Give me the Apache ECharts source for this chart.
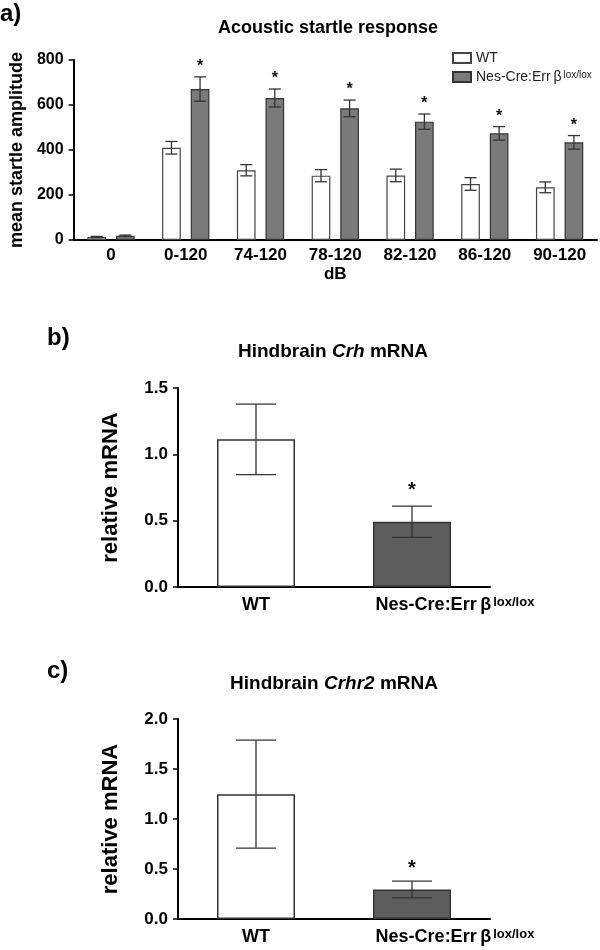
<!DOCTYPE html>
<html><head><meta charset="utf-8">
<script src="https://cdn.jsdelivr.net/npm/echarts@6/dist/echarts.min.js"></script>
<style>html,body{margin:0;padding:0;background:#fff}#c{width:600px;height:950px}</style>
</head><body><div id="c"></div>
<script>
// ---- data ----
const aCategories = ['0', '0-120', '74-120', '78-120', '82-120', '86-120', '90-120'];
const aWT = [13, 410, 310, 286, 287, 249, 234];
const aWTErr = [3, 28, 25, 27, 28, 28, 24];
const aNes = [19, 671, 631, 585, 526, 474, 434];
const aNesErr = [3, 54, 40, 37, 34, 30, 30];
const aWTSig = [false, false, false, false, false, false, false];
const aNesSig = [false, true, true, true, true, true, true];
const aYTicks = [0, 200, 400, 600, 800];

const bCategories = ['WT', 'Nes'];
const bValues = [1.113, 0.492];
const bErr = [0.266, 0.118];
const bSig = [false, true];
const bYTicks = [0, 0.5, 1.0, 1.5];

const cCategories = ['WT', 'Nes'];
const cValues = [1.248, 0.295];
const cErr = [0.54, 0.083];
const cSig = [false, true];
const cYTicks = [0, 0.5, 1.0, 1.5, 2.0];

// ---- chart ----
const FF = "'Liberation Sans', Arial, sans-serif";
const chart = echarts.init(document.getElementById('c'), null, {renderer: 'canvas'});

function errSeries(xi, yi, vals, errs, sig, sign, bwFrac, gapFrac, capW, starGap, starSize) {
  return {
    type: 'custom', xAxisIndex: xi, yAxisIndex: yi, z: 10, silent: true,
    data: vals.map((v, i) => [i, v, errs[i], sig[i] ? 1 : 0]),
    renderItem(params, api) {
      const i = api.value(0), v = api.value(1), e = api.value(2), s = api.value(3);
      const band = api.size([1, 0])[0];
      const bw = band * bwFrac;
      const off = sign * (bw + bw * gapFrac) / 2;
      const top = api.coord([i, v + e]);
      const bot = api.coord([i, Math.max(0, v - e)]);
      const x = top[0] + off;
      const st = {stroke: '#333', lineWidth: 1.3};
      const ch = [
        {type: 'line', shape: {x1: x, y1: top[1], x2: x, y2: bot[1]}, style: st},
        {type: 'line', shape: {x1: x - capW / 2, y1: top[1], x2: x + capW / 2, y2: top[1]}, style: st},
        {type: 'line', shape: {x1: x - capW / 2, y1: bot[1], x2: x + capW / 2, y2: bot[1]}, style: st}
      ];
      if (s) ch.push({type: 'text', style: {text: '*', x: x, y: top[1] - starGap, align: 'center', verticalAlign: 'middle',
        font: 'bold ' + starSize + 'px ' + FF, fill: '#111'}});
      return {type: 'group', children: ch};
    }
  };
}

const axisLineStyle = {show: true, lineStyle: {color: '#000', width: 2}};
const yTick = {show: true, length: 5, lineStyle: {color: '#000', width: 1.5}};

function mrnaXAxis(gi, cats) {
  return {
    type: 'category', gridIndex: gi, data: cats,
    axisLine: axisLineStyle, axisTick: {show: false},
    axisLabel: {
      interval: 0, hideOverlap: false,
      margin: 9, color: '#000', fontFamily: FF,
      formatter: v => v === 'WT' ? '{w|WT}' : '{n|Nes-Cre:Err\u2009β}{s|lox/lox}',
      rich: {
        w: {fontSize: 18, fontWeight: 'bold', fontFamily: FF, color: '#000'},
        n: {fontSize: 18, fontWeight: 'bold', fontFamily: FF, color: '#000', padding: [0, 0, 0, 86]},
        s: {fontSize: 13, fontWeight: 'bold', fontFamily: FF, color: '#000', verticalAlign: 'top', padding: [0, 0, 6, 2]}
      }
    }
  };
}
function mrnaYAxis(gi, ticks) {
  return {
    type: 'value', gridIndex: gi, min: ticks[0], max: ticks[ticks.length - 1], interval: ticks[1] - ticks[0],
    axisLine: axisLineStyle, axisTick: yTick, splitLine: {show: false},
    axisLabel: {margin: 10, color: '#000', fontFamily: FF, fontSize: 17, fontWeight: 'bold', formatter: v => v.toFixed(1)},
    name: 'relative mRNA', nameLocation: 'middle', nameGap: 56, nameRotate: 90,
    nameTextStyle: {color: '#000', fontFamily: FF, fontSize: 22, fontWeight: 'bold'}
  };
}

const option = {
  backgroundColor: '#fff',
  animation: false,
  grid: [
    {left: 65, right: 3, top: 60, bottom: 710},
    {left: 178, right: 110, top: 388, bottom: 363},
    {left: 178, right: 110, top: 719, bottom: 31}
  ],
  legend: {
    left: 447, top: 46, orient: 'vertical', itemWidth: 18, itemHeight: 10, itemGap: 5,
    icon: 'rect',
    data: ['WT', 'Nes'],
    textStyle: {
      fontFamily: FF, fontSize: 14, color: '#222',
      rich: {
        n: {fontFamily: FF, fontSize: 14, color: '#222'},
        s: {fontFamily: FF, fontSize: 10, color: '#222', verticalAlign: 'top', padding: [0, 0, 4, 2]}
      }
    },
    formatter: n => n === 'WT' ? 'WT' : '{n|Nes-Cre:Err\u2009β}{s|lox/lox}'
  },
  xAxis: [
    {type: 'category', gridIndex: 0, data: aCategories,
     axisLine: axisLineStyle, axisTick: {show: false},
     axisLabel: {interval: 0, margin: 7, color: '#000', fontFamily: FF, fontSize: 17, fontWeight: 'bold'},
     name: 'dB', nameLocation: 'middle', nameGap: 26,
     nameTextStyle: {color: '#000', fontFamily: FF, fontSize: 17, fontWeight: 'bold'}},
    mrnaXAxis(1, bCategories),
    mrnaXAxis(2, cCategories)
  ],
  yAxis: [
    {type: 'value', gridIndex: 0, min: aYTicks[0], max: aYTicks[aYTicks.length - 1], interval: aYTicks[1] - aYTicks[0],
     axisLine: axisLineStyle, axisTick: yTick, splitLine: {show: false},
     axisLabel: {margin: 10, color: '#000', fontFamily: FF, fontSize: 16, fontWeight: 'bold'},
     name: 'mean startle amplitude', nameLocation: 'middle', nameGap: 44, nameRotate: 90,
     nameTextStyle: {color: '#000', fontFamily: FF, fontSize: 18, fontWeight: 'bold'}},
    mrnaYAxis(1, bYTicks),
    mrnaYAxis(2, cYTicks)
  ],
  series: [
    {name: 'WT', type: 'bar', xAxisIndex: 0, yAxisIndex: 0, data: aWT, barWidth: '25%', barGap: '53%',
     itemStyle: {color: '#fff', borderColor: '#444', borderWidth: 1.2}},
    {name: 'Nes', type: 'bar', xAxisIndex: 0, yAxisIndex: 0, data: aNes, barWidth: '25%', barGap: '53%',
     itemStyle: {color: '#7a7a7a', borderColor: '#333', borderWidth: 1.2}},
    errSeries(0, 0, aWT, aWTErr, aWTSig, -1, 0.25, 0.53, 12, 10, 16),
    errSeries(0, 0, aNes, aNesErr, aNesSig, 1, 0.25, 0.53, 12, 10, 16),
    {type: 'bar', xAxisIndex: 1, yAxisIndex: 1, barWidth: '50%',
     data: bValues.map((v, i) => ({value: v, itemStyle: i === 0 ? {color: '#fff', borderColor: '#333', borderWidth: 1.5} : {color: '#5e5e5e', borderColor: '#333', borderWidth: 1.5}}))},
    errSeries(1, 1, bValues, bErr, bSig, 0, 0.5, 0, 40, 16, 20),
    {type: 'bar', xAxisIndex: 2, yAxisIndex: 2, barWidth: '50%',
     data: cValues.map((v, i) => ({value: v, itemStyle: i === 0 ? {color: '#fff', borderColor: '#333', borderWidth: 1.5} : {color: '#5e5e5e', borderColor: '#333', borderWidth: 1.5}}))},
    errSeries(2, 2, cValues, cErr, cSig, 0, 0.5, 0, 40, 13, 20)
  ],
  graphic: [
    {type: 'text', left: 0, top: 2, style: {text: 'a)', font: 'bold 24px ' + FF, fill: '#000'}},
    {type: 'text', left: 47, top: 326, style: {text: 'b)', font: 'bold 24px ' + FF, fill: '#000'}},
    {type: 'text', left: 47, top: 659, style: {text: 'c)', font: 'bold 24px ' + FF, fill: '#000'}},
    {type: 'text', x: 328, y: 28, style: {text: 'Acoustic startle response', font: 'bold 18px ' + FF, fill: '#000', align: 'center', verticalAlign: 'middle'}},
    {type: 'text', x: 333, y: 352, style: {text: '{b|Hindbrain }{i|Crh}{b| mRNA}', align: 'center', verticalAlign: 'middle',
      rich: {b: {fontFamily: FF, fontSize: 19, fontWeight: 'bold', color: '#000'}, i: {fontFamily: FF, fontSize: 19, fontWeight: 'bold', fontStyle: 'italic', color: '#000'}}}},
    {type: 'text', x: 334, y: 684, style: {text: '{b|Hindbrain }{i|Crhr2}{b| mRNA}', align: 'center', verticalAlign: 'middle',
      rich: {b: {fontFamily: FF, fontSize: 19, fontWeight: 'bold', color: '#000'}, i: {fontFamily: FF, fontSize: 19, fontWeight: 'bold', fontStyle: 'italic', color: '#000'}}}}
  ]
};
chart.setOption(option);
</script></body></html>
